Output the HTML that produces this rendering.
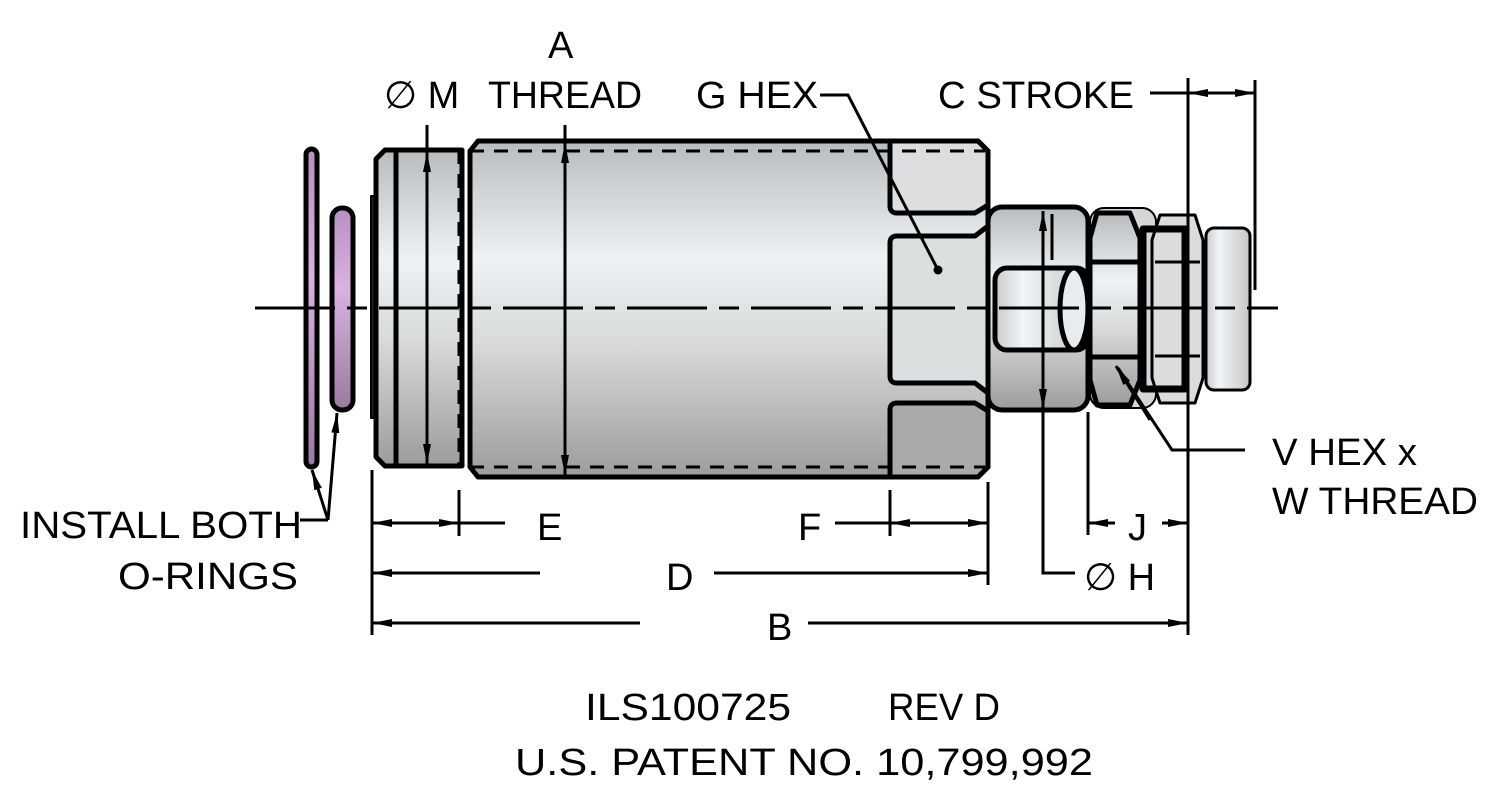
<!DOCTYPE html>
<html><head><meta charset="utf-8"><style>
html,body{margin:0;padding:0;background:#fff;}
svg{display:block;}
text{font-family:"Liberation Sans",sans-serif;font-size:38px;fill:#000;}
</style></head><body>
<svg width="1500" height="788" viewBox="0 0 1500 788" xmlns="http://www.w3.org/2000/svg">
<defs>
<linearGradient id="cyl" x1="0" y1="0" x2="0" y2="1">
<stop offset="0" stop-color="#b8bcbf"/><stop offset="0.35" stop-color="#eef2f4"/><stop offset="0.6" stop-color="#d8dadb"/><stop offset="1" stop-color="#9a9c9d"/></linearGradient>
<linearGradient id="cylh" x1="0" y1="0" x2="1" y2="0">
<stop offset="0" stop-color="#c8cacb"/><stop offset="0.3" stop-color="#f2f5f7"/><stop offset="1" stop-color="#c3c5c6"/></linearGradient>
<linearGradient id="pur" x1="0" y1="0" x2="0" y2="1">
<stop offset="0" stop-color="#b890c0"/><stop offset="0.4" stop-color="#d9b2e0"/><stop offset="1" stop-color="#9a7aa0"/></linearGradient>
<marker id="ar" viewBox="0 0 20 10" refX="20" refY="5" markerWidth="20" markerHeight="10" markerUnits="userSpaceOnUse" orient="auto-start-reverse"><path d="M0,1 L20,5 L0,9 Z" fill="#000"/></marker>
</defs>
<g stroke="#000" stroke-width="5" stroke-linejoin="round">
<rect x="306" y="149" width="11" height="318" rx="5.5" fill="url(#pur)"/>
<rect x="332" y="208" width="21" height="202" rx="10" fill="url(#pur)"/>
<rect x="371" y="196" width="6" height="222" fill="#222" stroke-width="2"/>
<path d="M385,150 L462,150 L462,466 L385,466 L376,457 L376,159 Z" fill="url(#cyl)"/>
<line x1="396" y1="150" x2="396" y2="466"/>
<path d="M478,141 L978,141 L988,151 L988,467 L978,477 L478,477 L470,467 L470,151 Z" fill="url(#cyl)"/>
<path d="M890,141 L890,206 Q890,213 897,213 L975,213 L988,205 L988,151 L978,141 Z" fill="#dcdedf"/>
<path d="M988,226 L975,236 L897,236 Q890,236 890,243 L890,376 Q890,383 897,383 L975,383 L988,393 Z" fill="#dcdfe0"/>
<path d="M890,477 L890,410 Q890,403 897,403 L975,403 L988,411 L988,467 L978,477 Z" fill="#aaaaab"/>
<rect x="988" y="207" width="100" height="203" rx="14" fill="url(#cyl)"/>
<rect x="995" y="268" width="93" height="82" rx="12" fill="url(#cylh)"/>
<ellipse cx="1074" cy="309" rx="14" ry="41" fill="#e8ecee"/>
<rect x="1090" y="208" width="66" height="200" rx="14" fill="#d4d6d7" stroke-width="2"/>
<path d="M1097,213 L1130,213 L1140,238 L1140,380 L1130,405 L1097,405 L1090,380 L1090,238 Z" fill="url(#cyl)"/>
<line x1="1090" y1="262" x2="1140" y2="262"/><line x1="1090" y1="357" x2="1140" y2="357"/>
<path d="M1160,215 L1195,215 L1203,240 L1203,378 L1195,403 L1160,403 L1152,378 L1152,240 Z" fill="#dadcdd" stroke-width="3"/>
<rect x="1143" y="229" width="42" height="160" fill="none" stroke-width="7"/>
<line x1="1155" y1="262" x2="1200" y2="262" stroke-width="3"/><line x1="1155" y1="356" x2="1200" y2="356" stroke-width="3"/>
<rect x="1206" y="228" width="44" height="162" rx="8" fill="url(#cylh)" stroke-width="3"/>
</g>
<g stroke="#000" stroke-width="3" stroke-dasharray="14,10" fill="none">
<line x1="470" y1="151" x2="985" y2="151"/><line x1="470" y1="467" x2="985" y2="467"/>
<line x1="459" y1="150" x2="459" y2="466"/>
</g>
<line x1="255" y1="308" x2="1278" y2="308" stroke="#000" stroke-width="3" stroke-dasharray="80,12,20,12"/>
<g stroke="#000" stroke-width="3" fill="none">
<line x1="427" y1="125" x2="427" y2="150"/>
<line x1="427" y1="152" x2="427" y2="464" marker-start="url(#ar)" marker-end="url(#ar)"/>
<line x1="565" y1="125" x2="565" y2="143"/>
<line x1="565" y1="143" x2="565" y2="475" marker-start="url(#ar)" marker-end="url(#ar)"/>
<polyline points="820,95 848,95 938,270"/>
<line x1="1150" y1="93" x2="1188" y2="93"/>
<line x1="1188" y1="93" x2="1255" y2="93" marker-start="url(#ar)" marker-end="url(#ar)"/>
<line x1="1188" y1="78" x2="1188" y2="635"/>
<line x1="1255" y1="80" x2="1255" y2="290"/>
<polyline points="1245,450 1172,450 1118,368"/>
<line x1="1150" y1="420" x2="1116" y2="366" marker-end="url(#ar)"/>
<line x1="372" y1="470" x2="372" y2="635"/>
<line x1="459" y1="490" x2="459" y2="536"/>
<line x1="890" y1="490" x2="890" y2="536"/>
<line x1="988" y1="482" x2="988" y2="585"/>
<line x1="1088" y1="412" x2="1088" y2="535"/>
<line x1="372" y1="523" x2="459" y2="523" marker-start="url(#ar)" marker-end="url(#ar)"/>
<line x1="459" y1="523" x2="505" y2="523"/>
<line x1="835" y1="523" x2="890" y2="523"/>
<line x1="890" y1="523" x2="988" y2="523" marker-start="url(#ar)" marker-end="url(#ar)"/>
<line x1="1115" y1="523" x2="1088" y2="523" marker-end="url(#ar)"/>
<line x1="1162" y1="523" x2="1188" y2="523" marker-end="url(#ar)"/>
<line x1="540" y1="573" x2="372" y2="573" marker-end="url(#ar)"/>
<line x1="714" y1="573" x2="988" y2="573" marker-end="url(#ar)"/>
<line x1="640" y1="623" x2="372" y2="623" marker-end="url(#ar)"/>
<line x1="808" y1="623" x2="1188" y2="623" marker-end="url(#ar)"/>
<polyline points="1043,212 1043,573 1075,573"/>
<line x1="1043" y1="230" x2="1043" y2="211" marker-end="url(#ar)"/>
<line x1="1043" y1="390" x2="1043" y2="409" marker-end="url(#ar)"/>
<line x1="1052" y1="214" x2="1052" y2="260"/>
<line x1="328" y1="520" x2="312" y2="470" marker-end="url(#ar)"/>
<line x1="328" y1="520" x2="337" y2="413" marker-end="url(#ar)"/>
<line x1="300" y1="520" x2="328" y2="520"/>
</g>
<circle cx="938" cy="270" r="4.5" fill="#000"/>
<text x="548" y="58">A</text>
<text x="384" y="108">∅ M</text>
<text x="488" y="108" textLength="154" lengthAdjust="spacingAndGlyphs">THREAD</text>
<text x="696" y="108" textLength="122" lengthAdjust="spacingAndGlyphs">G HEX</text>
<text x="938" y="108" textLength="196" lengthAdjust="spacingAndGlyphs">C STROKE</text>
<text x="1272" y="465" textLength="145" lengthAdjust="spacingAndGlyphs">V HEX x</text>
<text x="1272" y="514" textLength="206" lengthAdjust="spacingAndGlyphs">W THREAD</text>
<text x="20" y="538" textLength="282" lengthAdjust="spacingAndGlyphs">INSTALL BOTH</text>
<text x="118" y="589" textLength="180" lengthAdjust="spacingAndGlyphs">O-RINGS</text>
<text x="537" y="540">E</text>
<text x="798" y="540">F</text>
<text x="1128" y="540">J</text>
<text x="666" y="590">D</text>
<text x="1084" y="590">∅ H</text>
<text x="767" y="640">B</text>
<text x="585" y="720" textLength="206" lengthAdjust="spacingAndGlyphs">ILS100725</text>
<text x="888" y="720" textLength="112" lengthAdjust="spacingAndGlyphs">REV D</text>
<text x="515" y="775" textLength="578" lengthAdjust="spacingAndGlyphs">U.S. PATENT NO. 10,799,992</text>
</svg>
</body></html>
